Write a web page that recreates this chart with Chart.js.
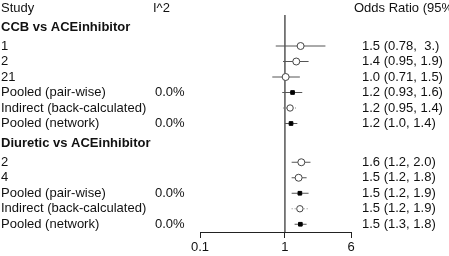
<!DOCTYPE html>
<html>
<head>
<meta charset="utf-8">
<script src="https://cdn.jsdelivr.net/npm/chart.js@4/dist/chart.umd.min.js"></script>
<style>
html,body{margin:0;padding:0;background:#fff;}
#c{display:block;}
</style>
</head>
<body>
<canvas id="c" width="449" height="256"></canvas>
<script>
// ---- data ----
const sectionTitles = ["CCB vs ACEinhibitor", "Diuretic vs ACEinhibitor"];

const ccbStudies = ["1", "2", "21", "Pooled (pair-wise)", "Indirect (back-calculated)", "Pooled (network)"];
const ccbKinds   = ["study", "study", "study", "pooled", "indirect", "pooled"];
const ccbI2      = ["", "", "", "0.0%", "", "0.0%"];
const ccbOR      = [1.53, 1.36, 1.02, 1.23, 1.15, 1.18];
const ccbLow     = [0.78, 0.95, 0.71, 0.93, 0.95, 1.0];
const ccbHigh    = [3.0, 1.9, 1.5, 1.6, 1.4, 1.4];
const ccbText    = ["1.5 (0.78,  3.)", "1.4 (0.95, 1.9)", "1.0 (0.71, 1.5)", "1.2 (0.93, 1.6)", "1.2 (0.95, 1.4)", "1.2 (1.0, 1.4)"];

const diuStudies = ["2", "4", "Pooled (pair-wise)", "Indirect (back-calculated)", "Pooled (network)"];
const diuKinds   = ["study", "study", "pooled", "indirect", "pooled"];
const diuI2      = ["", "", "0.0%", "", "0.0%"];
const diuOR      = [1.56, 1.45, 1.5, 1.5, 1.52];
const diuLow     = [1.2, 1.2, 1.2, 1.2, 1.3];
const diuHigh    = [2.0, 1.8, 1.9, 1.9, 1.8];
const diuText    = ["1.6 (1.2, 2.0)", "1.5 (1.2, 1.8)", "1.5 (1.2, 1.9)", "1.5 (1.2, 1.9)", "1.5 (1.3, 1.8)"];

const xTicks = [0.1, 1, 6];
const colStudy = "Study";
const colI2 = "I^2";
const colOR = "Odds Ratio (95% CI)";
const refValue = 1;

// ---- layout (row units) ----
const sections = [
  {title: sectionTitles[0], labels: ccbStudies, kinds: ccbKinds, i2: ccbI2, or: ccbOR, lo: ccbLow, hi: ccbHigh, text: ccbText},
  {title: sectionTitles[1], labels: diuStudies, kinds: diuKinds, i2: diuI2, or: diuOR, lo: diuLow, hi: diuHigh, text: diuText}
];
const rows = [];
const heads = [];
let u = 2;
const firstRow = u;
sections.forEach(s => {
  heads.push({title: s.title, y: u - 1.2});
  s.labels.forEach((lab, i) => {
    rows.push({label: lab, kind: s.kinds[i], i2: s.i2[i], or: s.or[i], lo: s.lo[i], hi: s.hi[i], text: s.text[i], y: u + i});
  });
  u += s.labels.length + 1.5;
});
const yMax = 14;

const FONT = "'Liberation Sans', Arial, sans-serif";
const TXT = "#111";
const LINE = "#555";

const datasets = [];
// reference line
datasets.push({type: 'line', data: [{x: refValue, y: 0}, {x: refValue, y: yMax}], borderColor: LINE, borderWidth: 1.5, pointRadius: 0, order: 3});
rows.forEach(r => {
  datasets.push({
    type: 'line',
    data: [{x: r.lo, y: r.y}, {x: r.hi, y: r.y}],
    borderColor: r.kind === 'indirect' ? '#888' : LINE,
    borderWidth: 1,
    borderDash: r.kind === 'indirect' ? [1, 2] : [],
    pointRadius: 0,
    order: 2
  });
  const isSq = r.kind === 'pooled';
  datasets.push({
    type: 'scatter',
    data: [{x: r.or, y: r.y}],
    pointStyle: isSq ? 'rect' : 'circle',
    pointRadius: isSq ? 2.6 : (r.kind === 'indirect' ? 3.2 : 3.5),
    pointBackgroundColor: isSq ? '#000' : '#fff',
    pointBorderColor: isSq ? '#000' : '#444',
    pointBorderWidth: 1,
    order: 0
  });
});

const textPlugin = {
  id: 'forestText',
  afterDraw(chart) {
    const ctx = chart.ctx;
    const ys = chart.scales.y;
    ctx.save();
    ctx.fillStyle = TXT;
    ctx.textBaseline = 'middle';
    ctx.textAlign = 'left';
    ctx.font = "13px " + FONT;
    const hy = ys.getPixelForValue(firstRow - 2.4);
    ctx.fillText(colStudy, 1, hy);
    ctx.fillText(colI2, 153, hy);
    ctx.fillText(colOR, 354, hy);
    heads.forEach(h => {
      ctx.font = "bold 13px " + FONT;
      ctx.fillText(h.title, 1, ys.getPixelForValue(h.y));
    });
    ctx.font = "13px " + FONT;
    rows.forEach(r => {
      const py = ys.getPixelForValue(r.y);
      ctx.fillText(r.label, 1, py);
      if (r.i2) ctx.fillText(r.i2, 155, py);
      ctx.fillText(r.text, 362, py);
    });
    ctx.restore();
  }
};

new Chart(document.getElementById('c'), {
  type: 'scatter',
  data: {datasets},
  options: {
    responsive: false,
    animation: false,
    layout: {padding: {left: 200, right: 98, top: 15, bottom: 0}},
    plugins: {legend: {display: false}, tooltip: {enabled: false}},
    scales: {
      x: {
        type: 'logarithmic',
        min: xTicks[0],
        max: xTicks[xTicks.length - 1],
        afterBuildTicks: s => { s.ticks = xTicks.map(v => ({value: v})); },
        afterFit: s => { s.height = 24; },
        grid: {drawOnChartArea: false, drawTicks: true, tickLength: 6, color: '#222', lineWidth: 1},
        border: {display: true, color: '#222', width: 1},
        ticks: {
          color: TXT,
          font: {family: FONT, size: 13},
          padding: 2,
          maxRotation: 0,
          autoSkip: false,
          callback: v => String(v)
        }
      },
      y: {type: 'linear', min: 0, max: yMax, reverse: true, display: false}
    }
  },
  plugins: [textPlugin]
});
</script>
</body>
</html>
